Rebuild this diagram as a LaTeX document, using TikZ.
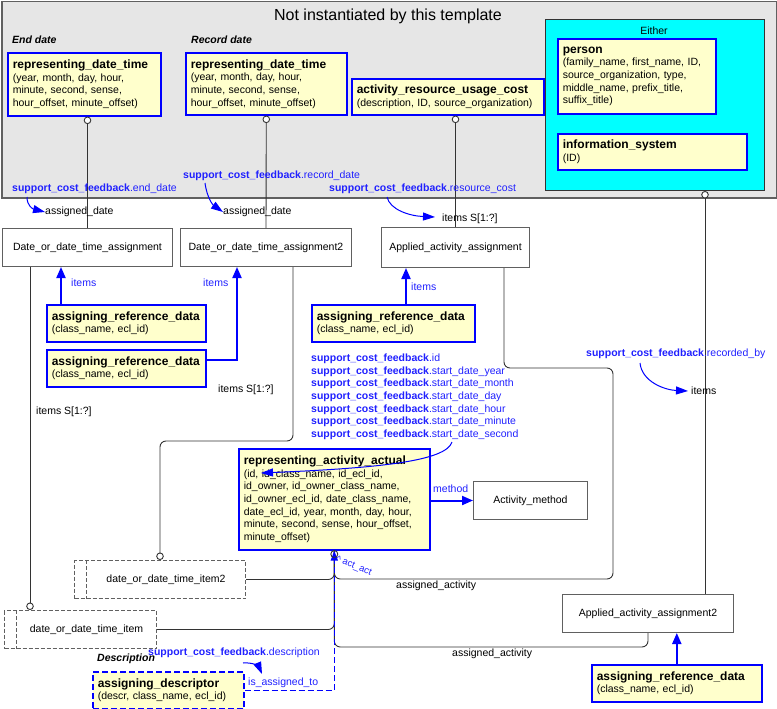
\documentclass[tikz,border=0pt]{standalone}
\usepackage{fontspec}
\setmainfont{Liberation Sans}
\usetikzlibrary{arrows.meta,calc}
\definecolor{ylw}{HTML}{FFFFCC}
\definecolor{bgg}{HTML}{E6E6E6}
\definecolor{bdg}{HTML}{606060}
\definecolor{lnk}{HTML}{333333}
\definecolor{bl}{HTML}{0000FF}
\definecolor{lb}{HTML}{2020FF}
\definecolor{cyn}{HTML}{00FFFF}
\newcommand\fb{\fontsize{10.5}{12.7}\selectfont}
\newcommand\ttl[1]{{\fontsize{12}{13}\selectfont\bfseries #1}}
\newcommand\scf[1]{\textbf{support\_cost\_feedback}.#1}
\tikzset{
  ctip/.tip={Circle[fill=white,length=7.5pt,width=7.5pt]},
  ybox/.style={draw=bl, line width=1.6pt, fill=ylw, anchor=north west, align=left, inner xsep=5pt, inner ysep=2pt, text=black},
  wbox/.style={draw=bdg, line width=1pt, fill=white, anchor=north west, align=center, inner sep=0pt},
  sbox/.style={draw=bdg, line width=1pt, fill=white, anchor=north west, inner sep=0pt, dash pattern=on 4pt off 2pt},
  conn/.style={draw=lnk, line width=0.9pt, rounded corners=6pt},
  itemarr/.style={draw=bl, line width=2pt, -{Triangle[length=11pt,width=9pt]}},
  annarr/.style={draw=bl, line width=1pt, -{Triangle[length=12pt,width=8pt]}},
  bdash/.style={draw=bl, line width=1.5pt, dash pattern=on 6pt off 3pt, -{Triangle[length=10pt,width=7pt]}},
  tx/.style={inner sep=0pt, anchor=west, text=black},
  bt/.style={inner sep=0pt, anchor=west, text=lb},
  hd/.style={inner sep=0pt, anchor=west, font=\fb\bfseries\itshape}
}
\begin{document}
\begin{tikzpicture}[x=1pt,y=-1pt,font=\fb]
\useasboundingbox (0,0) rectangle (777,709);
% container
\node[draw=bdg, fill=bgg, line width=1.5pt, anchor=north west, minimum width=775pt, minimum height=196pt, inner sep=0pt] (nit) at (1,1) {};
\node[font=\fontsize{16}{19}\selectfont] (nitt) at (388,16) {Not instantiated by this template};
\node[draw=lnk, fill=cyn, line width=1pt, anchor=north west, minimum width=219pt, minimum height=171pt, inner sep=0pt] (eith) at (545,19) {};
\node[font=\fontsize{10.5}{12}\selectfont] (eitht) at (654,31) {Either};
% headings
\node[hd] (hend) at (12,40) {End date};
\node[hd] (hrec) at (191,40) {Record date};
\node[hd] (hdes) at (97,659) {Description};
% yellow boxes
\node[ybox, text width=143pt, minimum height=63pt] (rdt1) at (7,52) {\ttl{representing\_date\_time}\\(year, month, day, hour,\\minute, second, sense,\\hour\_offset, minute\_offset)};
\node[ybox, text width=151pt, minimum height=62pt] (rdt2) at (185,52) {\ttl{representing\_date\_time}\\(year, month, day, hour,\\minute, second, sense,\\hour\_offset, minute\_offset)};
\node[ybox, text width=182pt, minimum height=36pt] (aruc) at (351,78) {\ttl{activity\_resource\_usage\_cost}\\(description, ID, source\_organization)};
\node[ybox, text width=148pt, minimum height=75pt] (pers) at (557,38) {\ttl{person}\\(family\_name, first\_name, ID,\\source\_organization, type,\\middle\_name, prefix\_title,\\suffix\_title)};
\node[ybox, text width=179pt, minimum height=36pt] (isys) at (557,133) {\ttl{information\_system}\\(ID)};
\node[ybox, text width=149pt, minimum height=37pt] (ard1) at (46,304) {\ttl{assigning\_reference\_data}\\(class\_name, ecl\_id)};
\node[ybox, text width=149pt, minimum height=37pt] (ard2) at (46,349) {\ttl{assigning\_reference\_data}\\(class\_name, ecl\_id)};
\node[ybox, text width=153pt, minimum height=37pt] (ard3) at (311,304) {\ttl{assigning\_reference\_data}\\(class\_name, ecl\_id)};
\node[ybox, text width=160pt, minimum height=37pt] (ard4) at (591,664) {\ttl{assigning\_reference\_data}\\(class\_name, ecl\_id)};
\node[ybox, text width=181pt, minimum height=101pt] (rep) at (238,448) {\ttl{representing\_activity\_actual}\\(id, id\_class\_name, id\_ecl\_id,\\id\_owner, id\_owner\_class\_name,\\id\_owner\_ecl\_id, date\_class\_name,\\date\_ecl\_id, year, month, day, hour,\\minute, second, sense, hour\_offset,\\minute\_offset)};
\node[ybox, text width=141pt, minimum height=37pt, dash pattern=on 6pt off 3pt] (desc) at (92,671) {\ttl{assigning\_descriptor}\\(descr, class\_name, ecl\_id)};
% white boxes
\node[wbox, minimum width=170pt, minimum height=38pt] (DDTA) at (2,228) {Date\_or\_date\_time\_assignment};
\node[wbox, minimum width=171pt, minimum height=38pt] (DDTA2) at (180,228) {Date\_or\_date\_time\_assignment2};
\node[wbox, minimum width=148pt, minimum height=40pt] (AAA) at (381,227) {Applied\_activity\_assignment};
\node[wbox, minimum width=114pt, minimum height=38pt] (ActM) at (473,481) {Activity\_method};
\node[wbox, minimum width=171pt, minimum height=38pt] (AAA2) at (562,594) {Applied\_activity\_assignment2};
% select boxes
\node[sbox, minimum width=171pt, minimum height=38pt] (item2) at (74,560) {\hspace{12pt}date\_or\_date\_time\_item2};
\draw[draw=bdg, line width=1pt, dash pattern=on 4pt off 2pt] ($(item2.north west)+(12,0)$) -- ($(item2.south west)+(12,0)$);
\node[sbox, minimum width=152pt, minimum height=38pt] (item) at (4,610) {\hspace{12pt}date\_or\_date\_time\_item};
\draw[draw=bdg, line width=1pt, dash pattern=on 4pt off 2pt] ($(item.north west)+(12,0)$) -- ($(item.south west)+(12,0)$);
% connectors, top
\draw[conn, ctip-] (rdt1.south -| DDTA.north) -- (DDTA.north);
\draw[conn, ctip-] (rdt2.south) -- (DDTA2.north);
\draw[conn, ctip-] (aruc.south -| AAA.north) -- (AAA.north);
\draw[conn, ctip-] ($(eith.south east)+(-60,0)$) coordinate (e1) -- (e1 |- AAA2.north);
% connectors, lower
\draw[conn, -ctip] ($(DDTA.south west)+(28,0)$) coordinate (d1) -- (d1 |- item.north);
\draw[conn, -ctip] ($(DDTA2.south west)+(113,0)$) -- ++(0,174) -| ($(item2.north west)+(86,0)$);
\draw[conn] ($(AAA.south west)+(123,0)$) -- ++(0,100) -- ++(109,0) -- ++(0,211) -| (rep.south);
\draw[conn] (item2.east) -| (rep.south);
\draw[conn] (item.east) -| (rep.south);
\draw[conn] (AAA2.south) -- ++(0,14) -| (rep.south);
\draw[bdash] (desc.east) -| (rep.south);
\draw[lnk, line width=0.9pt] ($(rep.south)+(0,3.5)$) circle[radius=3.5pt];
\draw[itemarr] (rep.east |- ActM.west) -- (ActM.west);
\draw[itemarr] ($(ard1.north west)+(15,0)$) coordinate (i1) -- (i1 |- DDTA.south);
\draw[itemarr] ($(ard2.north east)+(0,11)$) -| ($(DDTA2.south west)+(57,0)$);
\draw[itemarr] ($(ard3.north west)+(95,0)$) coordinate (i3) -- (i3 |- AAA.south);
\draw[itemarr] (ard4.north) -- (ard4.north |- AAA2.south);
% labels
\node[bt] (lend) at (12,189) {\scf{end\_date}};
\node[tx] (ad1) at (45,212) {assigned\_date};
\node[bt] (lrec) at (183,176) {\scf{record\_date}};
\node[tx] (ad2) at (223,212) {assigned\_date};
\node[bt] (lres) at (329,189) {\scf{resource\_cost}};
\node[tx] (isq) at (442,219) {items S[1:?]};
\node[bt] (lrby) at (586,354) {\scf{recorded\_by}};
\node[tx] (itm) at (691,391) {items};
\node[bt] (it1) at (71,283) {items};
\node[bt] (it2) at (203,283) {items};
\node[bt] (it3) at (411,287) {items};
\node[tx] (isq2) at (218,390) {items S[1:?]};
\node[tx] (isq1) at (36,412) {items S[1:?]};
\node[bt, anchor=north west, align=left] (lst) at (311,353.5) {\scf{id}\\\scf{start\_date\_year}\\\scf{start\_date\_month}\\\scf{start\_date\_day}\\\scf{start\_date\_hour}\\\scf{start\_date\_minute}\\\scf{start\_date\_second}};
\node[bt] (lmeth) at (433,489) {method};
\node[tx] (aa1) at (396,586) {assigned\_activity};
\node[tx] (aa2) at (452,654) {assigned\_activity};
\node[bt] (ldes) at (148,653) {\scf{description}};
\node[bt] (isa) at (248,683) {is\_assigned\_to};
\node[bt, rotate=-22, font=\fontsize{9.5}{11}\selectfont, anchor=west] (aact) at (336,559) {\textasciicircum\ act\_act};
% annotation arrows
\draw[annarr] (27,197) .. controls (27,206) and (33,209) .. (ad1.west);
\draw[annarr] (205,183) .. controls (207,198) and (213,205) .. (ad2.west);
\draw[annarr] (387,197) .. controls (390,210) and (410,216) .. ($(isq.west)+(-7,-2)$);
\draw[annarr] (640,363) .. controls (642,382) and (665,390) .. ($(itm.west)+(-3,0)$);
\draw[annarr] (243,663) .. controls (253,662) and (259,667) .. (262,674);
\draw[annarr] (452,442) .. controls (446,461) and (380,468) .. (261,473);
\end{tikzpicture}
\end{document}
